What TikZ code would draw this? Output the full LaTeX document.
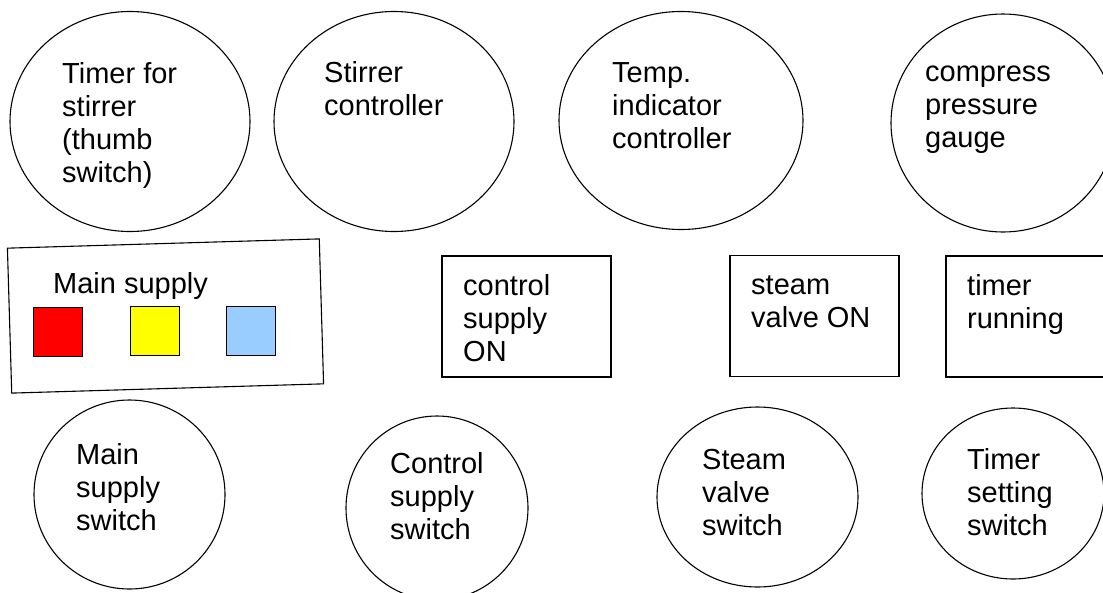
\documentclass[tikz,border=0pt]{standalone}
\usepackage{fontspec}
\setmainfont{Liberation Sans}
\usetikzlibrary{shapes.geometric}
\definecolor{lampred}{HTML}{FF0000}
\definecolor{lampyellow}{HTML}{FFFF00}
\definecolor{lampblue}{HTML}{99CCFF}

\begin{document}
\begin{tikzpicture}[x=1pt, y=-1pt,
    dial/.style={draw, ellipse, line width=1.1pt, inner sep=0pt},
    lamp/.style={draw, rectangle, line width=1.1pt, inner sep=0pt},
    btn/.style={draw, line width=1pt, inner sep=0pt, minimum size=49pt},
    txt/.style={anchor=north west, inner sep=0pt, align=left,
        font=\fontsize{29}{33}\selectfont}]
    \useasboundingbox (0,0) rectangle (1103,592);
    \clip (0,0) rectangle (1103,592);

    % top row: gauges and controllers
    \node (tmr) [dial, minimum width=240pt, minimum height=220pt] at (130,121.5) {};
    \node (stir) [dial, minimum width=240pt, minimum height=220pt] at (394,121.5) {};
    \node (temp) [dial, minimum width=244pt, minimum height=218pt] at (681,120.5) {};
    \node (press) [dial, minimum width=224pt, minimum height=218pt] at (1003,123) {};
    \node (tmrt) [txt] at (62,60) {\strut Timer for\\stirrer\\(thumb\\switch)};
    \node (stirt) [txt] at (324,59) {\strut Stirrer\\controller};
    \node (tempt) [txt] at (612,59) {\strut Temp.\\indicator\\controller};
    \node (presst) [txt] at (925,58) {\strut compress\\pressure\\gauge};

    % middle row: supply panel and indicator lamps
    \node (panel) [draw, line width=1.1pt, rotate=1.7, minimum width=312pt,
        minimum height=145pt] at (165.5,316) {};
    \node (panelt) [txt] at (53,270) {\strut Main supply};
    \node (red) [btn, fill=lampred] at (58,332) {};
    \node (yellow) [btn, fill=lampyellow] at (154.5,330.5) {};
    \node (blue) [btn, fill=lampblue] at (250.5,331) {};
    \node (ctl) [lamp, minimum width=169pt, minimum height=121pt] at (526.5,316.5) {};
    \node (steam) [lamp, minimum width=169pt, minimum height=121pt] at (814.5,316) {};
    \node (run) [lamp, minimum width=170pt, minimum height=121pt] at (1031,316.5) {};
    \node (ctlt) [txt] at (463,272) {\strut control\\supply\\ON};
    \node (steamt) [txt] at (751,271) {\strut steam\\valve ON};
    \node (runt) [txt] at (967,272) {\strut timer\\running};

    % bottom row: switches
    \node (mainsw) [dial, minimum width=191pt, minimum height=189pt] at (129.5,494.5) {};
    \node (ctlsw) [dial, minimum width=182pt, minimum height=184pt] at (437,508) {};
    \node (steamsw) [dial, minimum width=201pt, minimum height=180pt] at (757.5,497) {};
    \node (tmrsw) [dial, minimum width=182pt, minimum height=171pt] at (1013,493.5) {};
    \node (mainswt) [txt] at (76,441) {\strut Main\\supply\\switch};
    \node (ctlswt) [txt] at (390,450) {\strut Control\\supply\\switch};
    \node (steamswt) [txt] at (702,446) {\strut Steam\\valve\\switch};
    \node (tmrswt) [txt] at (967,446) {\strut Timer\\setting\\switch};
\end{tikzpicture}
\end{document}
